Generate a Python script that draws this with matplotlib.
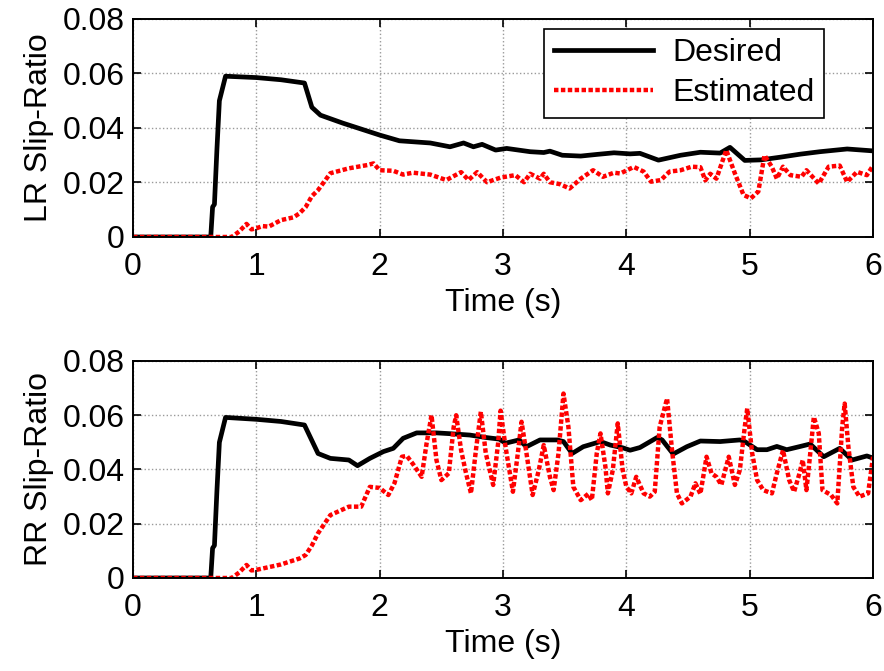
import matplotlib

matplotlib.use("Agg")
import matplotlib.pyplot as plt

plt.rcParams["font.family"] = ["Liberation Sans", "DejaVu Sans"]

# ---- LR (top) ----
lr_des_t = [0, 0.63, 0.645, 0.66, 0.68, 0.70, 0.75, 1.0, 1.2, 1.39, 1.45, 1.52, 1.7, 2.0,
            2.16, 2.41, 2.57, 2.68, 2.76, 2.83, 2.94, 3.03, 3.22, 3.33, 3.38, 3.48, 3.63,
            3.76, 3.90, 4.03, 4.11, 4.26, 4.44, 4.60, 4.76, 4.84, 4.96, 5.09, 5.25, 5.41,
            5.57, 5.79, 6.0]
lr_des_v = [0, 0, 0.011, 0.012, 0.032, 0.050, 0.0590, 0.0585, 0.0577, 0.0565, 0.0476, 0.0447,
            0.0418, 0.0374, 0.0353, 0.0345, 0.0331, 0.0345, 0.0331, 0.0340, 0.0319, 0.0325,
            0.0313, 0.0310, 0.0315, 0.0300, 0.0297, 0.0303, 0.0309, 0.0305, 0.0307, 0.0282,
            0.0300, 0.0311, 0.0308, 0.0329, 0.0281, 0.0283, 0.0293, 0.0304, 0.0313, 0.0323,
            0.0316]

lr_est_t = [0, 0.80, 0.86, 0.92, 0.96, 1.0, 1.05, 1.1, 1.2, 1.3, 1.35, 1.4, 1.45, 1.5, 1.6,
            1.75, 1.9, 1.95, 2.0, 2.11, 2.19, 2.27, 2.41, 2.54, 2.66, 2.72, 2.79, 2.87, 2.98,
            3.10, 3.17, 3.22, 3.30, 3.33, 3.38, 3.46, 3.54, 3.63, 3.73, 3.81, 3.90, 3.95,
            4.06, 4.14, 4.20, 4.28, 4.35, 4.44, 4.53, 4.60, 4.64, 4.68, 4.73, 4.81, 4.88,
            4.95, 5.01, 5.07, 5.12, 5.18, 5.22, 5.27, 5.33, 5.42, 5.46, 5.56, 5.64, 5.73,
            5.79, 5.87, 5.95, 6.0]
lr_est_v = [0, 0, 0.002, 0.0048, 0.0028, 0.0032, 0.0040, 0.0038, 0.0062, 0.0072, 0.0087,
            0.0110, 0.0150, 0.0172, 0.0234, 0.0252, 0.0264, 0.0270, 0.0245, 0.0243, 0.0229,
            0.0236, 0.0229, 0.0209, 0.0238, 0.0209, 0.0238, 0.0201, 0.0218, 0.0227, 0.0201,
            0.0232, 0.0214, 0.0232, 0.0201, 0.0194, 0.0178, 0.0214, 0.0245, 0.0221, 0.0236,
            0.0233, 0.0257, 0.0240, 0.0203, 0.0209, 0.0240, 0.0245, 0.0258, 0.0256, 0.0208,
            0.0232, 0.0214, 0.0319, 0.0233, 0.0154, 0.0142, 0.0167, 0.0300, 0.0257, 0.0214,
            0.0258, 0.0227, 0.0221, 0.0245, 0.0196, 0.0258, 0.0262, 0.0202, 0.0239, 0.0227,
            0.0262]

# ---- RR (bottom) ----
rr_des_t = [0, 0.63, 0.645, 0.66, 0.68, 0.70, 0.75, 1.0, 1.2, 1.39, 1.5, 1.6, 1.75, 1.82,
            1.92, 2.03, 2.11, 2.19, 2.30, 2.46, 2.57, 2.73, 2.86, 2.97, 3.02, 3.13, 3.19,
            3.30, 3.44, 3.49, 3.56, 3.65, 3.79, 3.87, 3.97, 4.03, 4.11, 4.25, 4.29, 4.38,
            4.49, 4.60, 4.76, 4.92, 4.96, 5.06, 5.14, 5.22, 5.30, 5.41, 5.49, 5.60, 5.73,
            5.83, 5.95, 6.0]
rr_des_v = [0, 0, 0.011, 0.012, 0.032, 0.050, 0.0592, 0.0585, 0.0577, 0.0564, 0.0459,
            0.0441, 0.0435, 0.0414, 0.0441, 0.0466, 0.0478, 0.0515, 0.0535, 0.0535, 0.0532,
            0.0527, 0.0518, 0.0512, 0.0497, 0.0509, 0.0484, 0.0509, 0.0509, 0.0503, 0.0459,
            0.0484, 0.0503, 0.0490, 0.0480, 0.0471, 0.0481, 0.0518, 0.0509, 0.0457, 0.0484,
            0.0505, 0.0503, 0.0509, 0.0503, 0.0473, 0.0473, 0.0485, 0.0473, 0.0485, 0.0494,
            0.0447, 0.0478, 0.0435, 0.0450, 0.0442]

rr_est_t = [0, 0.80, 0.86, 0.92, 0.96, 1.0, 1.1, 1.2, 1.35, 1.4, 1.45, 1.5, 1.6, 1.75, 1.85,
            1.92, 2.00, 2.07, 2.12, 2.18, 2.22, 2.27, 2.34, 2.38, 2.42, 2.46, 2.50, 2.56,
            2.60, 2.62, 2.66, 2.70, 2.74, 2.78, 2.82, 2.86, 2.92, 2.96, 2.98, 3.02, 3.08,
            3.12, 3.15, 3.19, 3.24, 3.29, 3.33, 3.38, 3.41, 3.45, 3.49, 3.53, 3.57, 3.63,
            3.69, 3.72, 3.76, 3.79, 3.83, 3.85, 3.89, 3.93, 3.97, 4.00, 4.04, 4.08, 4.14,
            4.19, 4.23, 4.27, 4.33, 4.37, 4.41, 4.45, 4.52, 4.56, 4.60, 4.65, 4.69, 4.73,
            4.77, 4.83, 4.88, 4.92, 4.96, 4.98, 5.02, 5.06, 5.11, 5.18, 5.22, 5.27, 5.32,
            5.36, 5.40, 5.43, 5.46, 5.48, 5.52, 5.56, 5.59, 5.66, 5.71, 5.75, 5.77, 5.80,
            5.84, 5.89, 5.96, 6.0]
rr_est_v = [0, 0, 0.002, 0.0048, 0.0028, 0.0030, 0.0040, 0.0050, 0.0072, 0.0085, 0.0120,
            0.0165, 0.0232, 0.0263, 0.0263, 0.0336, 0.0332, 0.0306, 0.0350, 0.0447, 0.0450,
            0.0420, 0.0373, 0.0496, 0.0600, 0.0435, 0.0361, 0.0386, 0.0557, 0.0600, 0.0471,
            0.0386, 0.0312, 0.0471, 0.0613, 0.0460, 0.0343, 0.0496, 0.0617, 0.0484, 0.0318,
            0.0460, 0.0576, 0.0460, 0.0306, 0.0398, 0.0490, 0.0373, 0.0324, 0.0460, 0.0680,
            0.0557, 0.0336, 0.0287, 0.0310, 0.0287, 0.0460, 0.0533, 0.0410, 0.0312, 0.0398,
            0.0570, 0.0398, 0.0336, 0.0312, 0.0373, 0.0312, 0.0300, 0.0318, 0.0557, 0.0662,
            0.0472, 0.0312, 0.0275, 0.0300, 0.0349, 0.0310, 0.0447, 0.0386, 0.0373, 0.0343,
            0.0447, 0.0343, 0.0398, 0.0557, 0.0625, 0.0460, 0.0361, 0.0324, 0.0312, 0.0386,
            0.0471, 0.0361, 0.0318, 0.0380, 0.0435, 0.0324, 0.0410, 0.0594, 0.0533, 0.0324,
            0.0306, 0.0275, 0.0557, 0.0643, 0.0484, 0.0336, 0.0300, 0.0312, 0.0447]

panels = [
    ("LR Slip-Ratio", lr_des_t, lr_des_v, lr_est_t, lr_est_v),
    ("RR Slip-Ratio", rr_des_t, rr_des_v, rr_est_t, rr_est_v),
]
x_ticks = [0, 1, 2, 3, 4, 5, 6]
y_ticks = [0, 0.02, 0.04, 0.06, 0.08]
y_ticklabels = ["0", "0.02", "0.04", "0.06", "0.08"]

FS = 23

fig = plt.figure(figsize=(8.84, 6.71), dpi=100)
rects = [[0.1505, 0.6468, 0.8371, 0.3249], [0.1505, 0.1386, 0.8371, 0.3234]]

for i, (ylab, dt, dv, et, ev) in enumerate(panels):
    ax = fig.add_axes(rects[i])
    ax.plot(dt, dv, color="black", lw=3.4, solid_joinstyle="round", label="Desired")
    ax.plot(et, ev, color="#FF0000", lw=3.2, ls=(0, (1.0, 0.55)), label="Estimated")
    ax.set_xlim(0, 6)
    ax.set_ylim(0, 0.08)
    ax.set_xticks(x_ticks)
    ax.set_yticks(y_ticks)
    ax.set_yticklabels(y_ticklabels)
    ax.tick_params(direction="in", top=True, right=True, labelsize=FS, length=6, width=1.2)
    ax.tick_params(axis="y", pad=6)
    ax.tick_params(axis="x", pad=11)
    ax.grid(True, ls=":", color="#9a9a9a", lw=1)
    for sp in ax.spines.values():
        sp.set_linewidth(1.4)
    ax.set_xlabel("Time (s)", fontsize=FS, labelpad=4)
    ax.set_ylabel(ylab, fontsize=FS, labelpad=6)
    if i == 0:
        leg = ax.legend(loc="upper right", fontsize=FS, fancybox=False, framealpha=1,
                        edgecolor="black", handlelength=3.1, borderpad=0.3,
                        labelspacing=0.3, handletextpad=0.6, borderaxespad=0.5,
                        bbox_to_anchor=(0.955, 1.028))
        leg.get_frame().set_linewidth(1.2)

fig.savefig("out.png", dpi=100)
